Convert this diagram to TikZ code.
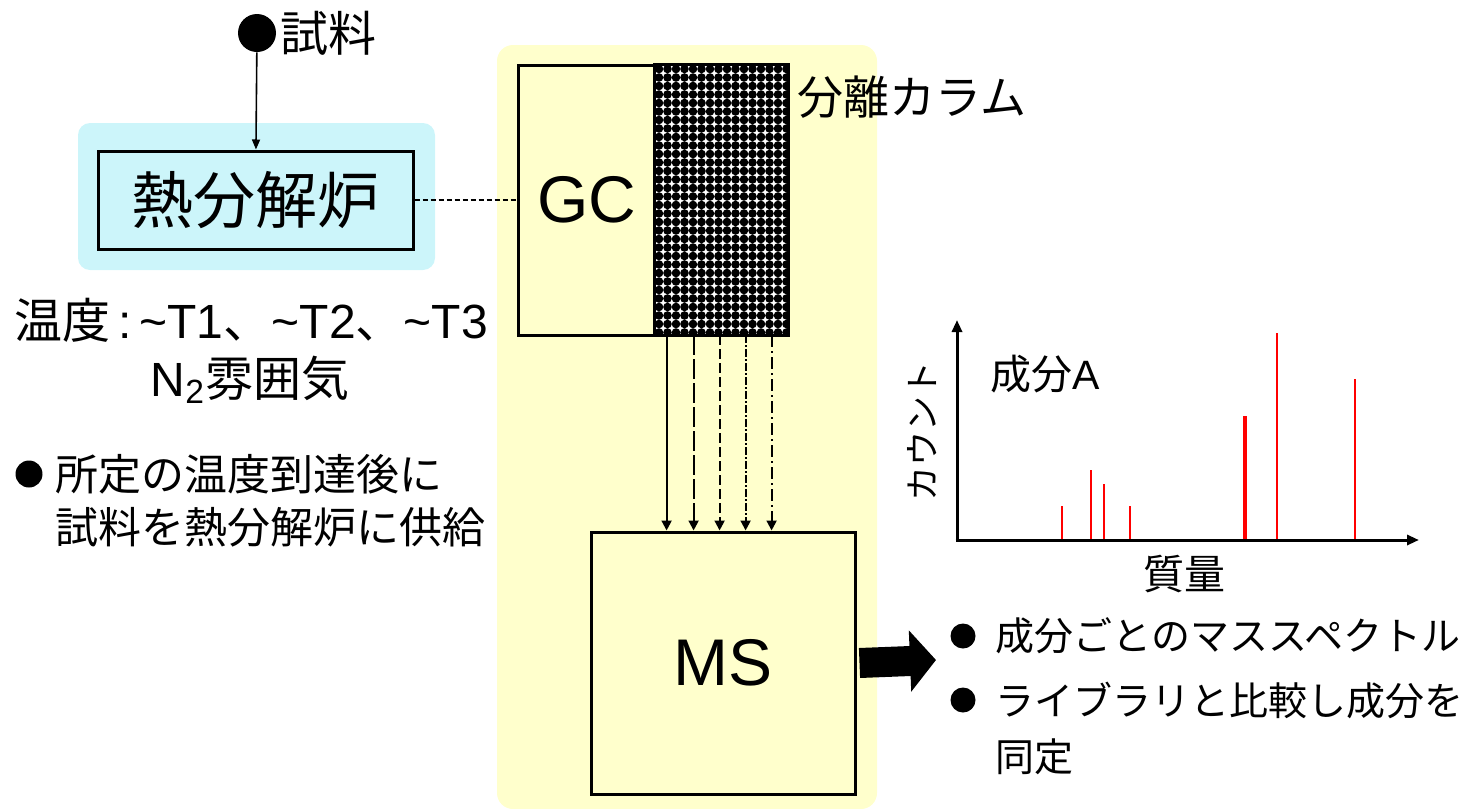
\documentclass[tikz,border=0pt]{standalone}
\usepackage{fontspec}
\setmainfont{Liberation Sans}
\newfontfamily\jpfont{Noto Sans CJK JP}
\usepackage{xcolor}
\usetikzlibrary{arrows.meta,positioning,calc}
\definecolor{yellowbg}{RGB}{255,255,204}
\definecolor{cyanbg}{RGB}{204,245,250}

\begin{document}
\begin{tikzpicture}[x=0.5pt,y=-0.5pt,
	boxline/.style={line width=1.5pt},
	txt/.style={inner sep=0pt},
	bulletdot/.style={circle,fill=black,inner sep=0pt},
	flowarrow/.style={line width=1pt,-{Triangle[length=5pt,width=5pt]}},
	flowA/.style={solid},
	flowB/.style={dash pattern=on 10pt off 2pt},
	flowC/.style={dash pattern=on 5pt off 2pt},
	flowD/.style={dash pattern=on 4pt off 1pt on 1pt off 1pt},
	flowE/.style={dash pattern=on 6pt off 2pt on 1pt off 2pt},
	peak/.style={red,line width=1pt}]
	\useasboundingbox (0,0) rectangle (1464,809);
	
	\fill[yellowbg, rounded corners=8pt] (497,45) rectangle (877,809);
	\fill[cyanbg, rounded corners=6pt] (78,123) rectangle (435,270);
	
	\node[draw, boxline, minimum width=157.5pt, minimum height=49pt, inner sep=0pt, font=\jpfont\fontsize{31}{37}\selectfont] (furnace) at (255.5,200) {熱分解炉};
	\node[bulletdot, minimum size=19pt] (sample) at (257,33) {};
	\node[txt, right=2pt of sample, font=\jpfont\fontsize{24}{29}\selectfont] (samplelabel) {試料};
	\draw[line width=0.8pt, -{Triangle[length=5pt,width=4pt]}] (sample) -- (furnace);
	
	\node[txt, font=\fontsize{24}{29}\selectfont] (temp) at (251,320) {{\jpfont 温度}\,:\,\textasciitilde T1{\jpfont 、}\textasciitilde T2{\jpfont 、}\textasciitilde T3};
	\node[txt, font=\fontsize{24}{29}\selectfont] (atmos) at (250,380) {N\textsubscript{2}{\jpfont 雰囲気}};
	
	\node[bulletdot, minimum size=13.5pt] (bulletL) at (29,474) {};
	\node[txt, anchor=west, align=left, font=\jpfont\fontsize{21.5}{26.5}\selectfont] (supplynote) at (55,501) {所定の温度到達後に\\試料を熱分解炉に供給};
	
	\node[draw, boxline, fill=yellowbg, minimum width=68.5pt, minimum height=135pt, inner sep=0pt, font=\fontsize{33}{40}\selectfont] (gc) at (586.5,200) {GC};
	\node[fill=white, minimum width=66.5pt, minimum height=135pt, inner sep=0pt] (column) at (721.5,200) {};
	\begin{scope}
		\clip (column.south west) rectangle (column.north east);
		\foreach \i in {0,...,16}
			\foreach \j in {0,...,32}
				\fill (659+\i*8.5, 69+\j*8.5) circle (2.15pt);
	\end{scope}
	\draw[boxline] (column.south west) rectangle (column.north east);
	\node[txt, anchor=west, font=\jpfont\fontsize{23}{28}\selectfont] (columnlabel) at (797,97) {分離カラム};
	
	\draw[line width=0.7pt, dash pattern=on 2.5pt off 1.5pt] (furnace) -- (gc);
	
	\node[draw, boxline, fill=yellowbg, minimum width=132pt, minimum height=131pt, inner sep=0pt, font=\fontsize{33}{40}\selectfont] (ms) at (723,663) {MS};
	
	\foreach \dx/\st in {12/flowA,39/flowB,65/flowC,91/flowD,117/flowE} {
		\path (column.south west) ++(\dx,0) coordinate (src);
		\draw[flowarrow,\st] (src) -- (src |- ms.north);
	}
	
	\coordinate (resulttip) at (936,660);
	\draw[line width=15pt, -{Triangle[length=13pt,width=30pt]}] ([xshift=1.5pt]ms.east) -- (resulttip);
	
	\node[bulletdot, minimum size=12.5pt] (bulletR1) at (963,636) {};
	\node[txt, anchor=west, font=\jpfont\fontsize{19.5}{24}\selectfont] (spectrumnote) at (995,636) {成分ごとのマススペクトル};
	\node[bulletdot, minimum size=12.5pt] (bulletR2) at (963,700) {};
	\node[txt, anchor=west, align=left, font=\jpfont\fontsize{19.5}{28}\selectfont] (librarynote) at (995,728) {ライブラリと比較し成分を\\同定};
	
	\coordinate (origin) at (957,540);
	\coordinate (ytop) at (957,320);
	\coordinate (xend) at (1419,540);
	\draw[line width=1.5pt, -{Triangle[length=6pt,width=5pt]}] ([yshift=-0.75pt]origin) -- (ytop);
	\draw[line width=1.5pt, -{Triangle[length=6pt,width=5pt]}] ([xshift=-0.75pt]origin) -- (xend);
	\foreach \x/\h in {1062/506,1091/470,1104/484,1130/506,1277/333,1355/379}
		\draw[peak] (\x,539) -- (\x,\h);
	\draw[peak, line width=2pt] (1245,539) -- (1245,416);
	
	\node[txt, anchor=west, font=\fontsize{20.5}{25}\selectfont] (compA) at (990,374) {{\jpfont 成分}A};
	\node[txt, rotate=90, font=\jpfont\fontsize{17.5}{21}\selectfont] (countlabel) at (922,431) {カウント};
	\node[txt, font=\jpfont\fontsize{20.5}{25}\selectfont] (masslabel) at (1184,574) {質量};
\end{tikzpicture}
\end{document}
